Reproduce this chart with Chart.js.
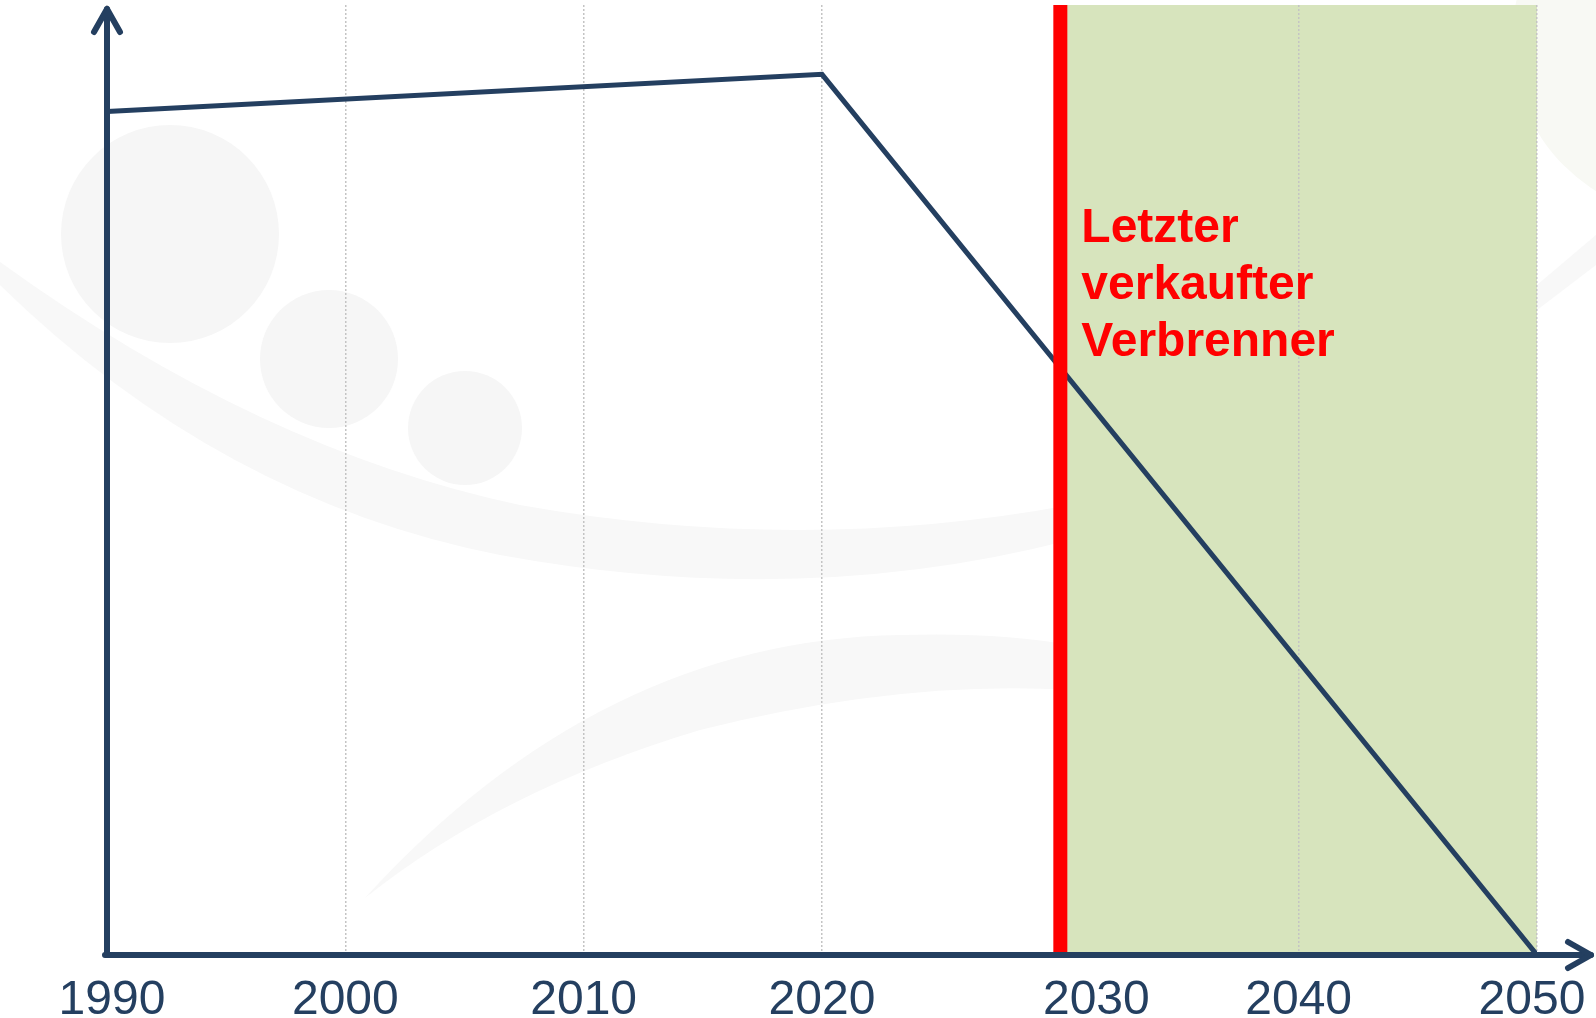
<!DOCTYPE html>
<html>
<head>
<meta charset="utf-8">
<script src="https://cdn.jsdelivr.net/npm/chart.js@4"></script>
<style>
  body { margin: 0; background: #fff; }
  canvas { display: block; }
</style>
</head>
<body>
<canvas id="chart" width="1596" height="1018"></canvas>
<script>
// Data
const years = [1990, 2020, 2050];
const emissions = [88.8, 92.7, 0];
const tickYears = [1990, 2000, 2010, 2020, 2030, 2040, 2050];
const phaseOutStart = 2030;
const phaseOutEnd = 2050;
const noteLines = ['Letzter', 'verkaufter', 'Verbrenner'];

const NAVY = '#243f60';
const RED = '#ff0000';
const GREEN = '#d7e4bd';

// faint background shapes (logo watermark)
function drawWatermark(ctx) {
    ctx.save();
    ctx.fillStyle = '#f6f6f6';
    [[170, 234, 109], [329, 359, 69], [465, 428, 57]].forEach(c => {
        ctx.beginPath();
        ctx.arc(c[0], c[1], c[2], 0, Math.PI * 2);
        ctx.fill();
    });
    ctx.fillStyle = '#f8f8f8';
    ctx.beginPath();
    ctx.moveTo(0, 262);
    ctx.quadraticCurveTo(260, 450, 520, 505);
    ctx.quadraticCurveTo(800, 555, 1070, 505);
    ctx.lineTo(1070, 540);
    ctx.quadraticCurveTo(800, 610, 500, 555);
    ctx.quadraticCurveTo(220, 500, 0, 285);
    ctx.closePath();
    ctx.fill();
    ctx.beginPath();
    ctx.moveTo(365, 898);
    ctx.quadraticCurveTo(600, 640, 900, 635);
    ctx.quadraticCurveTo(1000, 632, 1070, 645);
    ctx.lineTo(1070, 690);
    ctx.quadraticCurveTo(900, 680, 700, 730);
    ctx.quadraticCurveTo(500, 790, 365, 898);
    ctx.closePath();
    ctx.fill();
    ctx.fillStyle = '#f8f9f4';
    ctx.beginPath();
    ctx.arc(1690, 40, 178, 0, Math.PI * 2);
    ctx.fill();
    ctx.fillStyle = '#f8f8f8';
    ctx.beginPath();
    ctx.moveTo(1537, 285);
    ctx.lineTo(1596, 235);
    ctx.lineTo(1596, 265);
    ctx.lineTo(1537, 310);
    ctx.closePath();
    ctx.fill();
    ctx.restore();
}

function arrowHead(ctx, tipX, tipY, dx, dy) {
    // dx,dy = unit direction of the arrow
    const back = 23, spread = 13;
    ctx.beginPath();
    ctx.moveTo(tipX - dx * back - dy * spread, tipY - dy * back + dx * spread);
    ctx.lineTo(tipX, tipY);
    ctx.lineTo(tipX - dx * back + dy * spread, tipY - dy * back - dx * spread);
    ctx.stroke();
}

const decorPlugin = {
    id: 'decor',
    beforeDraw(chart) {
        const { ctx, chartArea, scales } = chart;
        ctx.save();
        ctx.fillStyle = '#fff';
        ctx.fillRect(0, 0, chart.width, chart.height);
        drawWatermark(ctx);
        const x1 = scales.x.getPixelForValue(phaseOutStart);
        const x2 = scales.x.getPixelForValue(phaseOutEnd);
        ctx.fillStyle = GREEN;
        ctx.fillRect(x1, chartArea.top, x2 - x1, chartArea.bottom - chartArea.top);
        ctx.restore();
    },
    afterDatasetsDraw(chart) {
        const { ctx, chartArea, scales } = chart;
        const xs = scales.x;
        ctx.save();

        // red marker line
        const xr = xs.getPixelForValue(phaseOutStart);
        ctx.fillStyle = RED;
        ctx.fillRect(xr - 7, chartArea.top, 14, chartArea.bottom - chartArea.top);

        // axes with arrows
        ctx.strokeStyle = NAVY;
        ctx.lineWidth = 6;
        ctx.lineCap = 'round';
        ctx.lineJoin = 'round';
        const ox = chartArea.left, oy = chartArea.bottom;
        ctx.beginPath();
        ctx.moveTo(ox, oy);
        ctx.lineTo(ox, 9);
        ctx.moveTo(ox - 2, oy);
        ctx.lineTo(1591, oy);
        ctx.stroke();
        arrowHead(ctx, ox, 9, 0, -1);
        arrowHead(ctx, 1591, oy, 1, 0);

        // note text
        ctx.fillStyle = RED;
        ctx.font = 'bold 48px "Liberation Sans", Arial, sans-serif';
        ctx.textAlign = 'left';
        ctx.textBaseline = 'alphabetic';
        noteLines.forEach((t, i) => {
            ctx.fillText(t, xr + 21, 242 + i * 57);
        });

        // x tick labels
        ctx.fillStyle = NAVY;
        ctx.font = '48px "Liberation Sans", Arial, sans-serif';
        ctx.textAlign = 'center';
        tickYears.forEach(y => {
            let x = xs.getPixelForValue(y);
            if (y === 1990) x += 5;
            if (y === phaseOutStart) x += 36;
            if (y === 2050) x -= 5;
            ctx.fillText(String(y), x, 1014);
        });
        ctx.restore();
    }
};

const chart = new Chart(document.getElementById('chart'), {
    type: 'line',
    data: {
        datasets: [{
            data: years.map((y, i) => ({ x: y, y: emissions[i] })),
            borderColor: NAVY,
            borderWidth: 5,
            pointRadius: 0,
            tension: 0,
            fill: false
        }]
    },
    options: {
        responsive: false,
        animation: false,
        layout: { padding: { left: 107, right: 59, top: 5, bottom: 0 } },
        plugins: {
            legend: { display: false },
            tooltip: { enabled: false }
        },
        scales: {
            x: {
                type: 'linear',
                min: 1990,
                max: 2050,
                afterFit: s => { s.height = 63; },
                ticks: { stepSize: 10, display: false },
                grid: { color: '#c4c4c4', lineWidth: 1.5, drawTicks: false },
                border: { display: false, dash: [2, 2] }
            },
            y: {
                display: false,
                min: 0,
                max: 100
            }
        }
    },
    plugins: [decorPlugin]
});
</script>
</body>
</html>
